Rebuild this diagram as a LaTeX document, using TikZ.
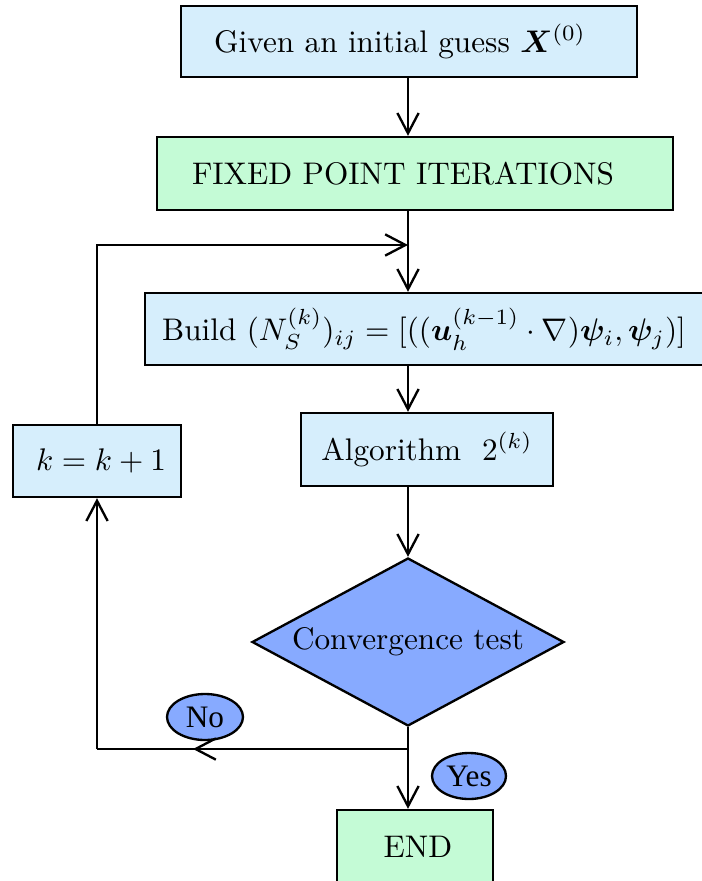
\documentclass[tikz,border=0pt]{standalone}
\usepackage{amsmath,bm}
\usepackage{fontspec}
\newfontfamily\tagfont{Liberation Serif}
\usetikzlibrary{shapes.geometric,arrows.meta}
\definecolor{boxblue}{RGB}{214,238,252}
\definecolor{boxgreen}{RGB}{196,251,214}
\definecolor{decblue}{RGB}{135,170,255}
\newcommand\pxu{0.32pt}
\begin{document}
\begin{tikzpicture}[x=0.32pt,y=-0.32pt,
  box/.style={draw=black, line width=0.75pt, inner sep=0pt},
  arr/.style={-{Straight Barb[length=6.5pt,width=6.8pt]}, line width=0.75pt},
  link/.style={line width=0.75pt},
  tag/.style={ellipse, draw=black, fill=decblue, line width=0.75pt, inner sep=0pt,
    minimum height=46*\pxu, font=\tagfont\fontsize{10}{11}\selectfont}]
\useasboundingbox (0,0) rectangle (701,881);

% process boxes
\node[box, fill=boxblue, minimum width=456*\pxu, minimum height=71*\pxu,
  label={[name=t1, xshift=-9*\pxu]center:{Given an initial guess $\bm{X}^{(0)}$}}] (b1) at (409,41.5) {};
\node[box, fill=boxgreen, minimum width=516*\pxu, minimum height=73*\pxu,
  label={[name=t2, xshift=-12*\pxu]center:{FIXED POINT ITERATIONS}}] (b2) at (415,173.5) {};
\node[box, fill=boxblue, minimum width=570*\pxu, minimum height=72*\pxu,
  label={[name=t3, xshift=-6*\pxu]center:{Build $(N_S^{(k)})_{ij}=[((\bm{u}_h^{(k-1)}\cdot\nabla)\bm{\psi}_i,\bm{\psi}_j)]$}}] (b3) at (430,329) {};
\node[box, fill=boxblue, minimum width=252*\pxu, minimum height=73*\pxu] (b4) at (427,449.5) {Algorithm\ \ $2^{(k)}$};
\node[box, fill=boxblue, minimum width=168*\pxu, minimum height=72*\pxu,
  label={[name=tk, xshift=4*\pxu]center:{$k=k+1$}}] (kb) at (97,461) {};
\node[diamond, draw=black, fill=decblue, line width=0.75pt, inner sep=0pt, aspect=1.857,
  minimum width=312*\pxu, minimum height=168*\pxu] (dec) at (408,642) {Convergence test};
\node[box, fill=boxgreen, minimum width=156*\pxu, minimum height=74*\pxu,
  label={[name=te, xshift=3*\pxu]center:{END}}] (fin) at (415,847) {};

% answer tags
\node[tag, minimum width=76*\pxu] (no) at (205,717) {No};
\node[tag, minimum width=74*\pxu] (yes) at (469,776) {Yes};

% connectors
\coordinate (ax) at (408,0);
\coordinate (join) at (408,245);
\coordinate (split) at (408,749);
\coordinate (noarr) at (193,749);
\coordinate (corner) at (97,749);

\draw[arr] (b1.south -| ax) -- (b2.north -| ax);
\draw[arr] (b2.south -| ax) -- (b3.north -| ax);
\draw[arr] (kb.north) |- (join);
\draw[arr] (b3.south -| ax) -- (b4.north -| ax);
\draw[arr] (b4.south -| ax) -- (dec.north);
\draw[arr] (dec.south) -- (fin.north -| dec.south);
\draw[link] (split) -- (corner);
\draw[arr] (split) -- (noarr);
\draw[arr] (corner) -- (kb.south);
\end{tikzpicture}
\end{document}
